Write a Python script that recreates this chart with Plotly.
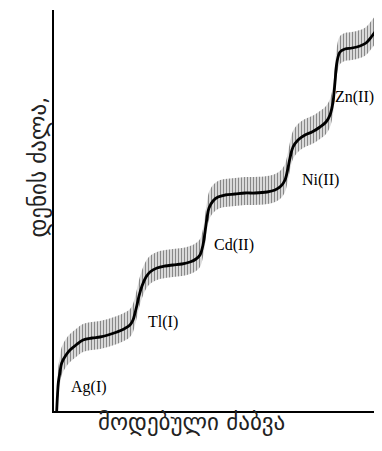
import plotly.graph_objects as go
import numpy as np

# Mean polarographic curve (arbitrary units)
potential = [2.7, 3.5, 4.3, 6, 7.7, 12, 16, 22, 29, 38, 46, 54, 63, 70, 76, 79, 81, 83, 85, 88,
             92, 96, 103, 111, 119, 128, 136, 142, 146, 149, 151, 153, 155, 159, 164, 171, 181,
             191, 201, 213, 221, 227, 231, 234, 236, 239, 244, 251, 258, 266, 272, 276, 279,
             281, 283, 286, 291, 298, 306, 312, 318, 323, 328]
current = [0, 16, 28, 39, 48, 56, 61, 66, 71, 73, 74, 76, 79, 82, 86, 91, 98, 106, 115, 125,
           134, 139, 143, 145, 146, 147, 149, 152, 156, 166, 179, 193, 203, 210, 214, 216, 217,
           218, 218, 219, 221, 225, 231, 243, 253, 264, 271, 276, 279, 284, 289, 296, 309,
           329, 349, 359, 362, 363, 365, 368, 375, 382, 391]

# oscillation (drop) amplitude above / below the mean line
osc_up = 16
osc_down = 12

labels = ["Ag(I)", "Tl(I)", "Cd(II)", "Ni(II)", "Zn(II)"]
label_x = [34.5, 109, 180, 266, 300]
label_y = [24, 89, 166, 231, 314]

x_title = "მოდებული ძაბვა"
y_title = "დენის ძალა,"

cur = np.array(current, dtype=float)
upper = cur + osc_up
lower = np.maximum(cur - osc_down, 0)

fig = go.Figure()
fig.add_trace(go.Scatter(x=potential, y=lower, mode="lines",
                         line=dict(width=0, shape="spline"), hoverinfo="skip", showlegend=False))
fig.add_trace(go.Scatter(x=potential, y=upper, mode="lines", fill="tonexty",
                         fillcolor="rgba(0,0,0,0)",
                         fillpattern=dict(shape="|", size=3, solidity=0.55,
                                          fgcolor="#111111", bgcolor="rgba(255,255,255,0)"),
                         line=dict(width=0, shape="spline"), hoverinfo="skip", showlegend=False))
fig.add_trace(go.Scatter(x=potential, y=current, mode="lines",
                         line=dict(color="black", width=2.8, shape="spline"), showlegend=False))

for t, lx, ly in zip(labels, label_x, label_y):
    fig.add_annotation(x=lx, y=ly, xref="x", yref="y", text=t, showarrow=False,
                       font=dict(family="Liberation Serif", size=16, color="black"))

# page has an 8px body margin; figure is sized so the axes land where the reference has them
OFF = 8
W, H = 382 - OFF, 451 - OFF
ml, mr, mt, mb = 54 - OFF, 0, 10 - OFF, 40


def paper_xy(px, py):
    fx, fy = px - OFF, py - OFF
    return (fx - ml) / (W - ml - mr), (H - mb - fy) / (H - mt - mb)


title_font = dict(family="DejaVu Sans", size=23, color="#222222")
xt = paper_xy(191, 438)
yt = paper_xy(22, 167)
fig.add_annotation(x=xt[0], y=xt[1], xref="paper", yref="paper", text=x_title, showarrow=False,
                   font=title_font)
fig.add_annotation(x=yt[0], y=yt[1], xref="paper", yref="paper", text=y_title, showarrow=False,
                   textangle=-90, font=title_font)

fig.update_xaxes(range=[0, 328], showline=True, linecolor="black", linewidth=1.5,
                 showgrid=False, zeroline=False, showticklabels=False, ticks="")
fig.update_yaxes(range=[0, 401], showline=True, linecolor="black", linewidth=1.5,
                 showgrid=False, zeroline=False, showticklabels=False, ticks="")
fig.update_layout(width=W, height=H, margin=dict(l=ml, r=mr, t=mt, b=mb),
                  paper_bgcolor="white", plot_bgcolor="white")
fig.write_html("out.html")
